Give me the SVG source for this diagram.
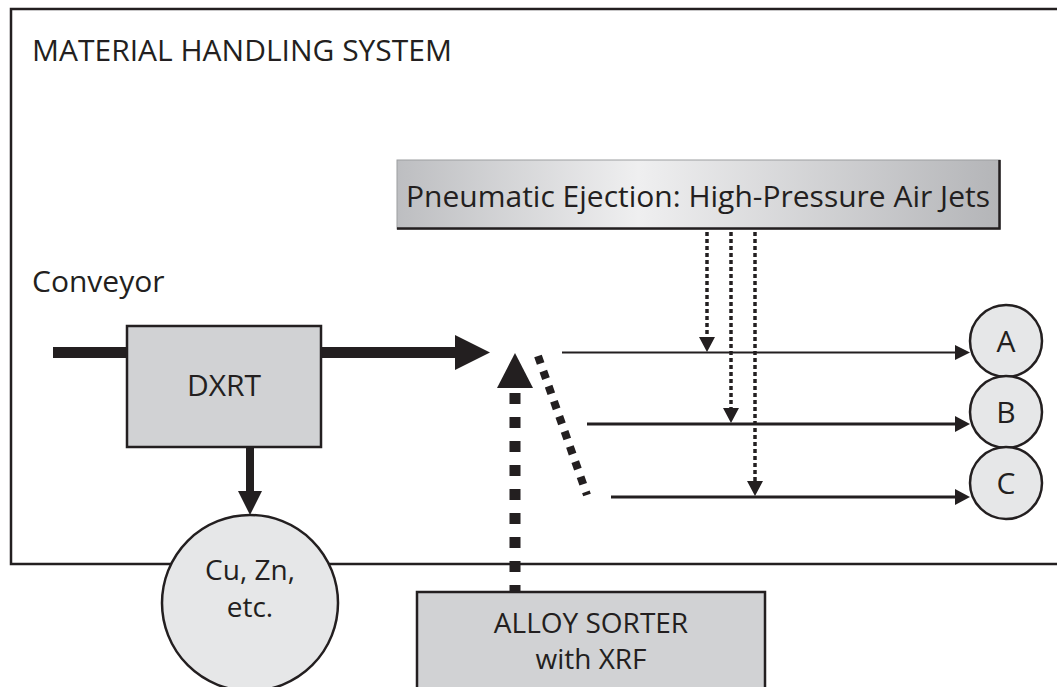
<svg xmlns="http://www.w3.org/2000/svg" width="1057" height="687" viewBox="0 0 1057 687">
  <defs>
    <style>
      text { font-family: "Open Sans", "Noto Sans", "Liberation Sans", sans-serif; font-size: 30px; fill: #231f20; }
      .mid { text-anchor: middle; }
      .pair { font-size: 28px; }
      .box { fill: #d1d2d4; stroke: #231f20; stroke-width: 2.5; }
      .disc { fill: #e6e7e8; stroke: #231f20; stroke-width: 2.5; }
      .thin { stroke: #231f20; stroke-width: 2; fill: none; }
      .mid-line { stroke: #231f20; stroke-width: 3; fill: none; }
      .jet { stroke: #231f20; stroke-width: 3.5; stroke-dasharray: 4 3; fill: none; }
      .head { fill: #231f20; }
    </style>
    <linearGradient id="steel" x1="0" y1="0" x2="1" y2="0">
      <stop offset="0" stop-color="#bdbec1"/>
      <stop offset="0.4" stop-color="#efeff0"/>
      <stop offset="1" stop-color="#b4b5b8"/>
    </linearGradient>
  </defs>

  <!-- enclosure of the handling system (open to the right) -->
  <g id="system">
    <path d="M1060 9 H11 V564 H1060" fill="none" stroke="#231f20" stroke-width="2.5"/>
    <text x="32" y="61">MATERIAL HANDLING SYSTEM</text>
    <text x="32" y="292">Conveyor</text>
  </g>

  <g id="connectors">
    <!-- conveyor belt -->
    <rect x="53" y="347" width="75" height="11" class="head"/>
    <rect x="320" y="347" width="136" height="11" class="head"/>
    <polygon points="455,335 490,352.5 455,370" class="head"/>
    <!-- DXRT reject path -->
    <rect x="246" y="447" width="8" height="45" class="head"/>
    <polygon points="238,491 262,491 250,515" class="head"/>
    <!-- XRF signal to the sorting point -->
    <line x1="515" y1="393" x2="515" y2="597" stroke="#231f20" stroke-width="11" stroke-dasharray="11 13"/>
    <polygon points="497,388 533,388 515,353" class="head"/>
    <!-- diverter flap -->
    <line x1="538" y1="356" x2="587" y2="495" stroke="#231f20" stroke-width="8" stroke-dasharray="8 8"/>
    <!-- output lanes -->
    <line x1="562" y1="352.5" x2="958" y2="352.5" class="thin"/>
    <polygon points="955,345 970,352.5 955,360" class="head"/>
    <line x1="587" y1="424" x2="958" y2="424" class="mid-line"/>
    <polygon points="955,416 970,424 955,432" class="head"/>
    <line x1="611" y1="497" x2="958" y2="497" class="mid-line"/>
    <polygon points="955,489 970,497 955,505" class="head"/>
    <!-- air jets -->
    <line x1="707" y1="232" x2="707" y2="338" class="jet"/>
    <polygon points="699,337 715,337 707,352" class="head"/>
    <line x1="731" y1="232" x2="731" y2="409" class="jet"/>
    <polygon points="723,408 739,408 731,423" class="head"/>
    <line x1="755" y1="232" x2="755" y2="482" class="jet"/>
    <polygon points="747,481 763,481 755,496" class="head"/>
  </g>

  <g id="pneumatic">
    <rect x="397" y="160" width="603" height="69" fill="url(#steel)" stroke="#9c9da0" stroke-width="1"/>
    <path d="M397 228.5 H999.5 V160" fill="none" stroke="#231f20" stroke-width="2.5"/>
    <text x="698" y="207" class="mid">Pneumatic Ejection: High-Pressure Air Jets</text>
  </g>

  <g id="dxrt">
    <rect x="127" y="326" width="194" height="121" class="box"/>
    <text x="224" y="396" class="mid">DXRT</text>
  </g>

  <g id="residue">
    <circle cx="250" cy="603" r="88" class="disc"/>
    <text x="250" y="580" class="mid pair">Cu, Zn,</text>
    <text x="250" y="617" class="mid pair">etc.</text>
  </g>

  <g id="alloy-sorter">
    <rect x="417" y="592" width="348" height="110" class="box"/>
    <text x="591" y="633" class="mid pair">ALLOY SORTER</text>
    <text x="591" y="669" class="mid pair">with XRF</text>
  </g>

  <g id="bin-a">
    <circle cx="1006" cy="341" r="36" class="disc"/>
    <text x="1006" y="352" class="mid">A</text>
  </g>
  <g id="bin-b">
    <circle cx="1006" cy="412" r="36" class="disc"/>
    <text x="1006" y="423" class="mid">B</text>
  </g>
  <g id="bin-c">
    <circle cx="1006" cy="483" r="36" class="disc"/>
    <text x="1006" y="494" class="mid">C</text>
  </g>
</svg>
